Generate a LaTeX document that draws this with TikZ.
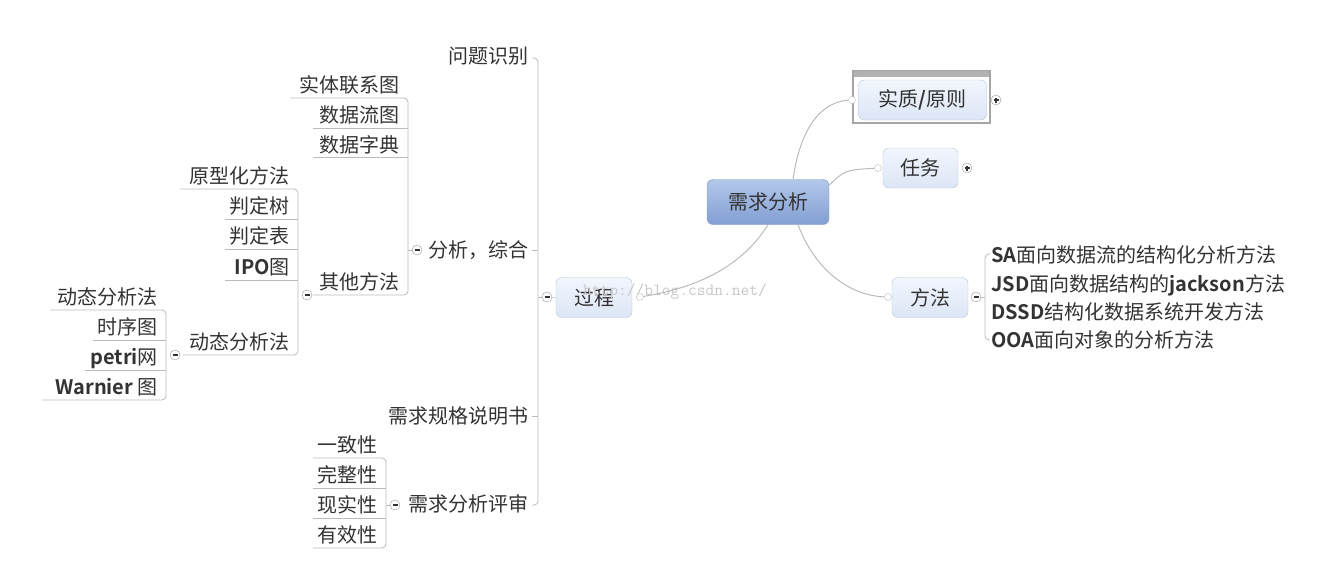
\documentclass[tikz,border=0pt]{standalone}
\usepackage{fontspec}
\setmainfont{Noto Sans CJK SC}[BoldFont={Noto Sans CJK SC Bold}]
\definecolor{txt}{HTML}{333333}
\definecolor{ln}{HTML}{BBBBBB}
\definecolor{bxb}{HTML}{B4C4DC}
\definecolor{ltop}{HTML}{F2F6FD}
\definecolor{lbot}{HTML}{DCE6F6}
\definecolor{rtop}{HTML}{B2C7EA}
\definecolor{rbot}{HTML}{829FD3}
\definecolor{rbrd}{HTML}{7F97C2}
\begin{document}
\begin{tikzpicture}[x=1pt,y=-1pt,
  every node/.style={font=\fontsize{20}{23}\selectfont,text=txt},
  leaf/.style={anchor=base east,inner sep=1pt},
  conn/.style={draw=ln,line width=1pt},
  brk/.style={draw=ln,line width=0.8pt,rounded corners=4},
  tog/.style={circle,draw=black!40,fill=white,minimum size=10pt,inner sep=0pt},
  minus/.style={path picture={\draw[black!80,line width=1.2pt] ([xshift=-2.5pt]path picture bounding box.center) -- ([xshift=2.5pt]path picture bounding box.center);}},
  plus/.style={path picture={\draw[black!80,line width=1.2pt] ([xshift=-2.5pt]path picture bounding box.center) -- ([xshift=2.5pt]path picture bounding box.center) ([yshift=-2.5pt]path picture bounding box.center) -- ([yshift=2.5pt]path picture bounding box.center);}},
  topic/.style={rounded corners=6,draw=bxb,top color=ltop,bottom color=lbot,minimum height=40pt,inner sep=3pt}]
\useasboundingbox (0,0) rectangle (1325,562);
% central
\node[rounded corners=6,draw=rbrd,top color=rtop,bottom color=rbot,minimum width=122pt,minimum height=45pt] (root) at (768,202) {需求分析};
% right side
\node[draw=black!35,line width=1.5pt,fill=white,minimum width=137pt,minimum height=52pt] (frame) at (921.5,97) {};
\fill[black!30] (854,71) rectangle (989,77);
\node[topic,minimum width=128pt,minimum height=40pt] (zz) at (922.5,100) {实质\textbf{/}原则};
\node[topic,minimum width=75pt] (rw) at (920.5,168) {任务};
\node[topic,minimum width=76pt] (ff) at (930,297.5) {方法};
\node[topic,minimum width=76pt] (gc) at (594,297.5) {过程};
% watermark
\node[text=black!22,font=\ttfamily\fontsize{17}{17}\selectfont] (wm) at (675,292) {http://blog.csdn.net/};
\draw[conn] (root.north) ++(25,0) coordinate (r1) .. controls (800,130) and (820,100) .. (852,100) coordinate (c1);
\draw[conn] (root.east) ++(0,-17) .. controls (845,170) .. (878,168) coordinate (c2);
\draw[conn] (root.south) ++(30,0) .. controls (815,270) and (850,297) .. (888,297) coordinate (c3);
\draw[conn] (gc.east) ++(4,0) .. controls (690,290) and (740,270) .. (root.south);
\foreach \c in {c1,c2,c3} \draw[ln,fill=white] (\c) circle (3.5);
\draw[ln,fill=white] (640,297) circle (3.5);
\node[tog,plus] (p1) at (996,100) {};
\node[tog,plus] (p2) at (967,168) {};
\node[tog,minus] (m1) at (976,297) {};
% method list
\draw[brk] (990,254) -- (985,254) -- (985,340) -- (990,340);
\draw[ln] (m1) -- (985,297);
\foreach \y/\t [count=\i] in {262/{\textbf{SA}面向数据流的结构化分析方法},291/{\textbf{JSD}面向数据结构的\textbf{jackson}方法},319/{\textbf{DSSD}结构化数据系统开发方法},347/{\textbf{OOA}面向对象的分析方法}}
  \node[anchor=base west,inner sep=1pt] (mm\i) at (990,\y) {\t};
% level 1 (process)
\draw[brk] (532,58) -- (538,58) -- (538,505) -- (532,505);
\node[tog,minus] (mg) at (547,297) {};
\draw[ln] (mg) -- (gc.west);
\draw[ln] (538,297) -- (mg);
\node[leaf] (wt) at (530,63) {问题识别};
\node[leaf] (fx) at (530,257) {分析，综合};
\node[leaf] (gg) at (530,423) {需求规格说明书};
\node[leaf] (ps) at (530,511) {需求分析评审};
\draw[ln] (532,250) -- (538,250) (532,416) -- (538,416);
% group B
\draw[brk] (290,98) -- (408,98) -- (408,295) -- (313,295);
\draw[ln] (408,250) -- (412,250);
\node[tog,minus] (tb) at (417,250) {};
\node[leaf] (b1) at (401,92) {实体联系图};
\node[leaf] (b2) at (401,122) {数据流图};
\node[leaf] (b3) at (401,152) {数据字典};
\node[leaf] (b4) at (401,289) {其他方法};
\draw[brk] (313,128) -- (408,128) (313,157) -- (408,157);
% group C
\draw[brk] (180,189) -- (298,189) -- (298,355) -- (183,355);
\node[tog,minus] (tc) at (307,295) {};
\node[leaf] (c1n) at (291,183) {原型化方法};
\node[leaf] (c2n) at (291,213) {判定树};
\node[leaf] (c3n) at (291,243) {判定表};
\node[leaf] (c4n) at (291,274) {\textbf{IPO}图};
\node[leaf] (c5n) at (291,349) {动态分析法};
\draw[ln] (225,219) -- (298,219) (225,249) -- (298,249) (225,280) -- (298,280);
% group D
\draw[brk] (50,310) -- (166,310) -- (166,400) -- (42,400);
\node[tog,minus] (td) at (175,355) {};
\node[leaf] (d1) at (159,304) {动态分析法};
\node[leaf] (d2) at (159,334) {时序图};
\node[leaf] (d3) at (159,364) {\textbf{petri}网};
\node[leaf] (d4) at (159,394) {\textbf{Warnier} 图};
\draw[ln] (93,340) -- (166,340) (85,370) -- (166,370);
% group E
\draw[brk] (313,458) -- (386,458) -- (386,548) -- (313,548);
\draw[ln] (386,505) -- (390,505);
\node[tog,minus] (te) at (395,505) {};
\node[leaf] (e1) at (379,452) {一致性};
\node[leaf] (e2) at (379,482) {完整性};
\node[leaf] (e3) at (379,512) {现实性};
\node[leaf] (e4) at (379,542) {有效性};
\draw[ln] (313,488) -- (386,488) (313,518) -- (386,518);
\end{tikzpicture}
\end{document}
